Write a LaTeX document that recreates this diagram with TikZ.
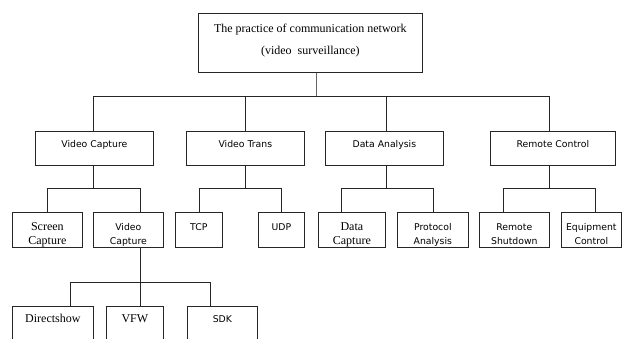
\documentclass[tikz,border=0pt]{standalone}
\usepackage{fontspec}
\setmainfont{Liberation Serif}
\newfontfamily\vsans{DejaVu Sans}
\tikzset{
  box/.style={draw=black!85, line width=0.7pt, inner sep=0pt, anchor=north west, align=center},
  rootbox/.style={box, minimum width=224pt, text height=41pt, text depth=18pt, font=\fontsize{12}{22}\selectfont},
  topic/.style={box, minimum width=118pt, text height=16pt, text depth=18pt, font=\vsans\fontsize{9.3}{14}\selectfont},
  leaf/.style={box, text height=18pt, text depth=17pt, font=\vsans\fontsize{9.3}{14}\selectfont},
  pair/.style={box, text height=32pt, text depth=3pt, font=\vsans\fontsize{9.3}{14}\selectfont},
  pairrm/.style={pair, font=\fontsize{12}{14}\selectfont},
  tool/.style={box, text height=16pt, text depth=34pt, font=\vsans\fontsize{9.3}{14}\selectfont},
  toolrm/.style={tool, font=\fontsize{12}{14}\selectfont},
  link/.style={draw=black!85, line width=0.7pt}
}
\begin{document}
\begin{tikzpicture}[x=1pt, y=-1pt]
\path[use as bounding box, clip] (0,0) rectangle (631,338);
% root
\node[rootbox] (root) at (198,13) {The practice of communication network\\(video\ \ surveillance)};
% first level
\node[topic] (vcap) at (35,131) {Video Capture};
\node[topic] (vtrans) at (186,131) {Video Trans};
\node[topic] (danal) at (325,131) {Data Analysis};
\node[topic, minimum width=125pt] (rctrl) at (490,131) {Remote Control};
% second level
\node[pairrm, minimum width=70pt] (scap) at (12,212) {Screen\\Capture};
\node[pair, minimum width=70pt] (vcap2) at (93,212) {Video\\Capture};
\node[leaf, minimum width=47pt] (tcp) at (175,212) {TCP};
\node[leaf, minimum width=46pt] (udp) at (258,212) {UDP};
\node[pairrm, minimum width=67pt] (dcap) at (318,212) {Data\\Capture};
\node[pair, minimum width=71pt] (prot) at (397,212) {Protocol\\Analysis};
\node[pair, minimum width=70pt] (rshut) at (479,212) {Remote\\Shutdown};
\node[pair, minimum width=60pt] (equip) at (561,212) {Equipment\\Control};
% third level
\node[toolrm, minimum width=81pt] (dshow) at (12,306) {Directshow};
\node[toolrm, minimum width=57pt] (vfw) at (106,306) {VFW};
\node[tool, minimum width=70pt] (sdk) at (187,306) {SDK};
% connectors
\draw[link, line width=1.1pt, draw=black!60] ([xshift=6pt]root.south) -- ++(0,24) coordinate (j0);
\draw[link] (j0) -| ([xshift=-1pt]vcap.north);
\draw[link] (j0) -| (vtrans.north);
\draw[link] (j0) -| ([xshift=2pt]danal.north);
\draw[link] (j0) -| ([xshift=-3.5pt]rctrl.north);
\draw[link] ([xshift=-1pt]vcap.south) -- ++(0,23) coordinate (j1);
\draw[link] (j1) -| (scap.north);
\draw[link] (j1) -| ([xshift=12pt]vcap2.north);
\draw[link] (vtrans.south) -- ++(0,23) coordinate (j2);
\draw[link] (j2) -| (tcp.north);
\draw[link] (j2) -| (udp.north);
\draw[link] ([xshift=2pt]danal.south) -- ++(0,23) coordinate (j3);
\draw[link] (j3) -| ([xshift=-10.5pt]dcap.north);
\draw[link] (j3) -| (prot.north);
\draw[link] ([xshift=-3.5pt]rctrl.south) -- ++(0,23) coordinate (j4);
\draw[link] (j4) -| ([xshift=-11pt]rshut.north);
\draw[link] (j4) -| ([xshift=4pt]equip.north);
\draw[link] ([xshift=12pt]vcap2.south) -- ++(0,35) coordinate (j5);
\draw[link] (j5) -| ([xshift=17.5pt]dshow.north);
\draw[link] (j5) -| ([xshift=5.5pt]vfw.north);
\draw[link] (j5) -| ([xshift=-12pt]sdk.north);
\end{tikzpicture}
\end{document}
